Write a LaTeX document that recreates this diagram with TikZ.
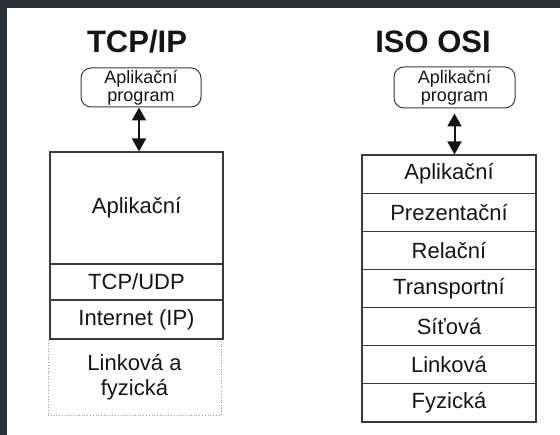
\documentclass[tikz,border=0pt]{standalone}
\usepackage{fontspec}
\setmainfont{Liberation Sans}
\usetikzlibrary{arrows.meta}
\definecolor{frame}{HTML}{2B3136}
\definecolor{ink}{HTML}{151515}
\definecolor{linec}{HTML}{3A3A3A}
\definecolor{dotc}{HTML}{9A9A9A}
\tikzset{
  titletext/.style={font=\fontsize{31}{36}\selectfont\bfseries, text=ink, inner sep=0pt, anchor=base},
  apptext/.style={draw=linec, line width=1pt, rounded corners=10pt, font=\fontsize{18}{18}\selectfont, text=ink, align=center, inner sep=0pt},
  layerbox/.style={draw=linec, line width=1.1pt, font=\fontsize{22}{25}\selectfont, text=ink, align=center, inner sep=0pt},
  dotbox/.style={draw=dotc, dotted, line width=0.8pt, font=\fontsize{22}{25}\selectfont, text=ink, align=center, inner sep=0pt},
  dblarrow/.style={{Triangle[width=14pt,length=13pt]}-{Triangle[width=14pt,length=13pt]}, line width=2pt, draw=ink}
}
\begin{document}
\begin{tikzpicture}[x=1pt,y=-1pt]
\useasboundingbox (0,0) rectangle (560,435);
\fill[white] (0,0) rectangle (560,435);
\fill[frame] (0,0) rectangle (560,8);
\fill[frame] (0,0) rectangle (7,435);

% TCP/IP
\node[titletext] (t1) at (137,53) {TCP/IP};
\node[apptext, minimum width=120pt, minimum height=39pt] (appL) at (141,87.5) {Aplikační\\program};
\node[dotbox, minimum width=173pt, minimum height=76pt] (L4) at (134.5,377) {Linková a\\fyzická};
\node[layerbox, minimum width=173pt, minimum height=112pt] (L1) at (136.5,208) {Aplikační};
\node[layerbox, minimum width=173pt, minimum height=36pt] (L2) at (136.5,282) {TCP/UDP};
\node[layerbox, minimum width=173pt, minimum height=39pt] (L3) at (136.5,319.5) {Internet (IP)};
\draw[dblarrow] ([xshift=-2pt]appL.south) -- ([xshift=-2pt]appL.south |- L1.north);

% ISO OSI
\node[titletext] (t2) at (433,53) {ISO OSI};
\node[apptext, minimum width=121pt, minimum height=41pt] (appR) at (454.5,87.5) {Aplikační\\program};
\foreach \name/\txt [count=\i from 0] in {R1/Aplikační,R2/Prezentační,R3/Relační,R4/Transportní,R5/Síťová,R6/Linková,R7/Fyzická}{
  \node[layerbox, minimum width=174pt, minimum height=38.14pt] (\name) at (449,{155+38.14*\i+19.07}) {\txt};
}
\draw[dblarrow, shorten <=5pt] (appR.south) -- (appR.south |- R1.north);
\end{tikzpicture}
\end{document}
